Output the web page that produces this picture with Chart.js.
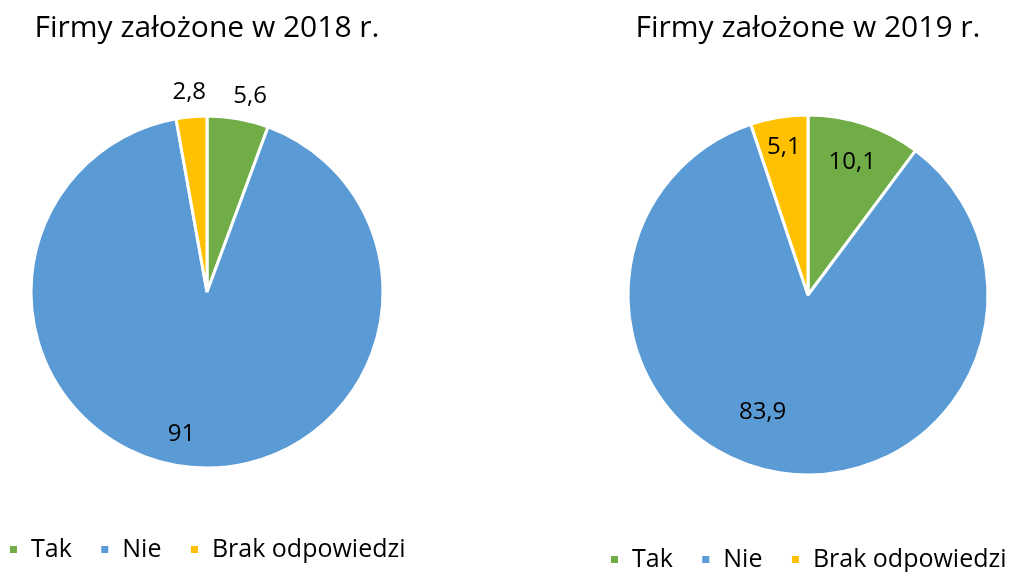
<!DOCTYPE html>
<html>
<head>
<meta charset="utf-8">
<script src="https://cdn.jsdelivr.net/npm/chart.js@4"></script>
<style>
  html, body { margin: 0; padding: 0; background: #fff; overflow: hidden; }
  .box { position: absolute; top: 0; width: 480px; }
  #left { left: -33px; height: 572px; }
  #right { left: 568px; height: 582px; }
</style>
</head>
<body>
<div class="box" id="left"><canvas id="pie2018"></canvas></div>
<div class="box" id="right"><canvas id="pie2019"></canvas></div>
<script>
// Data
const categories = ['Tak', 'Nie', 'Brak odpowiedzi'];
const values2018 = [5.6, 91, 2.8];
const values2019 = [10.1, 83.9, 5.1];
const labels2018 = ['5,6', '91', '2,8'];
const labels2019 = ['10,1', '83,9', '5,1'];

const colors = ['#70AD47', '#5B9BD5', '#FFC000'];
const FONT = '"Open Sans", "Noto Sans", sans-serif';

// label placement: radius fraction (>1 = outside the pie) and angle nudge (rad)
const labelPos2018 = [1.14, 0.82, 1.14];
const labelTurn2018 = [0.04, 0.09, 0];
const labelPos2019 = [0.78, 0.70, 0.83];
const labelTurn2019 = [0, 0.21, 0];

// simple value labels, drawn on top of the slices
const valueLabels = {
    id: 'valueLabels',
    afterDatasetsDraw(chart, args, opts) {
        const { ctx } = chart;
        const meta = chart.getDatasetMeta(0);
        ctx.save();
        ctx.font = `24px ${FONT}`;
        ctx.fillStyle = '#000';
        ctx.textAlign = 'center';
        ctx.textBaseline = 'middle';
        meta.data.forEach((arc, i) => {
            const { x, y, startAngle, endAngle, outerRadius } = arc.getProps(['x', 'y', 'startAngle', 'endAngle', 'outerRadius'], true);
            const mid = (startAngle + endAngle) / 2 + opts.turn[i];
            const r = outerRadius * opts.pos[i];
            ctx.fillText(opts.text[i], x + Math.cos(mid) * r, y + Math.sin(mid) * r);
        });
        ctx.restore();
    }
};

function makePie(id, title, values, texts, pos, turn, radius, titlePad) {
    return new Chart(document.getElementById(id), {
        type: 'pie',
        data: {
            labels: categories,
            datasets: [{
                data: values,
                backgroundColor: colors,
                borderColor: '#fff',
                borderWidth: 3,
                radius: radius
            }]
        },
        plugins: [valueLabels],
        options: {
            responsive: true,
            maintainAspectRatio: false,
            animation: false,
            plugins: {
                tooltip: { enabled: false },
                title: {
                    display: true,
                    text: title,
                    color: '#000',
                    font: { family: FONT, size: 30, weight: 'normal' },
                    padding: titlePad
                },
                legend: {
                    position: 'bottom',
                    labels: {
                        color: '#000',
                        font: { family: FONT, size: 25 },
                        boxWidth: 10,
                        boxHeight: 10,
                        padding: 28
                    }
                },
                valueLabels: { text: texts, pos: pos, turn: turn }
            }
        }
    });
}

makePie('pie2018', 'Firmy założone w 2018 r.', values2018, labels2018, labelPos2018, labelTurn2018, 176, { top: 10, bottom: 29 });
makePie('pie2019', 'Firmy założone w 2019 r.', values2019, labels2019, labelPos2019, labelTurn2019, 180, { top: 10, bottom: 25 });
</script>
</body>
</html>
